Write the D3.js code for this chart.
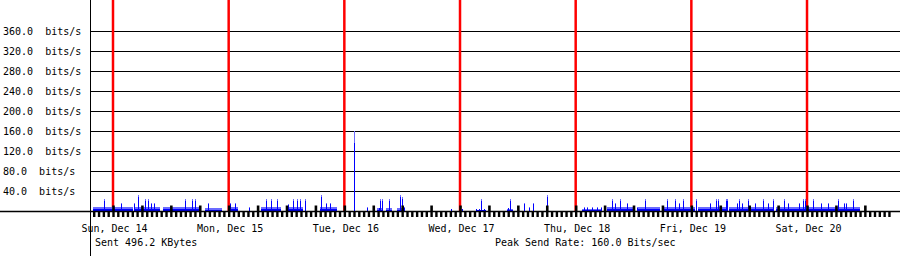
<!DOCTYPE html>
<html><head><meta charset="utf-8">
<script src="https://cdn.jsdelivr.net/npm/d3@7"></script>
<style>
body{margin:0;background:#fff}
svg{display:block}
text{font-family:'DejaVu Sans Mono','Liberation Mono',monospace;font-size:10px;fill:#000;white-space:pre}
</style>
</head><body><svg id="c" width="900" height="256"></svg>
<script>
// ---- data ----
const yTicks = [40, 80, 120, 160, 200, 240, 280, 320, 360];
const yTickLabels = ["40.0  bits/s","80.0  bits/s","120.0  bits/s","160.0  bits/s","200.0  bits/s","240.0  bits/s","280.0  bits/s","320.0  bits/s","360.0  bits/s"];
const dayLabels = ["Sun, Dec 14","Mon, Dec 15","Tue, Dec 16","Wed, Dec 17","Thu, Dec 18","Fri, Dec 19","Sat, Dec 20"];
const sentText = "Sent 496.2 KBytes";
const peakText = "Peak Send Rate: 160.0 Bits/sec";
// hours relative to Sun Dec 14 00:00
const bandStart = [-4.1, 4.6, 10.4, 19.1, 23.9, 30.7, 36.5, 42.9, 54.8, 56.6, 58.9, 75.5, 81.7, 97.3, 102.5, 108.7, 113.9, 121.4, 127.8, 137.6];
const bandEnd   = [ 4.1, 9.8, 18.0, 22.6, 25.9, 34.9, 39.4, 46.5, 56.0, 57.9, 60.4, 77.4, 82.9, 101.5, 107.9, 113.5, 120.8, 127.3, 137.2, 154.9];
const bandMax   = [8, 8, 8, 6, 8, 8, 8, 8, 6, 6, 6, 3, 4, 4, 8, 8, 8, 8, 8, 8];
const bandAvg   = [4, 4, 4, 3, 4, 4, 4, 4, 3, 3, 3, 2, 2, 2, 4, 4, 4, 4, 4, 4];
const spikeHour = [-1.9, 1.7, 4.4, 5.2, 6.6, 7.2, 7.9, 8.5, 15.0, 16.4, 17.0, 19.8, 24.3, 25.3, 28.2, 31.7, 32.8, 34.0, 36.3, 37.3, 38.2, 38.8, 39.8, 43.2, 44.2, 45.0, 50.0, 52.7, 55.2, 55.4, 55.8, 57.3, 59.5, 59.9, 60.4, 70.1, 72.4, 75.3, 76.0, 76.4, 77.0, 82.0, 82.4, 85.3, 86.3, 87.1, 90.0, 97.7, 98.3, 99.4, 100.4, 101.2, 103.5, 104.2, 105.2, 106.6, 108.7, 110.4, 114.9, 116.6, 117.4, 118.3, 121.0, 123.9, 125.1, 125.5, 127.2, 127.5, 129.5, 129.8, 130.5, 131.7, 133.2, 134.8, 135.9, 136.9, 139.2, 140.0, 142.3, 143.2, 143.6, 145.3, 147.0, 148.4, 150.5, 151.6, 152.0, 153.6];
const spikeMax  = [24, 16, 16, 33, 24, 24, 16, 16, 24, 24, 24, 16, 16, 16, 8, 24, 24, 24, 14, 24, 24, 24, 24, 32, 16, 16, 160, 8, 6, 24, 24, 24, 32, 28, 8, 4, 4, 4, 4, 24, 4, 6, 24, 16, 8, 16, 32, 8, 8, 8, 8, 8, 24, 16, 24, 16, 8, 24, 24, 24, 16, 24, 24, 16, 24, 24, 24, 24, 16, 24, 16, 24, 16, 24, 16, 24, 24, 16, 16, 24, 24, 24, 16, 16, 24, 16, 16, 24];

// ---- layout ----
const W = 900, H = 256;
const svg = d3.select("#c");
const t0 = new Date(2008, 11, 14);
const T = h => new Date(t0.getTime() + h * 3600e3);
const pxDay = 115.67, day0X = 113;
const pph = pxDay / 24;
const hStart = -4, hEnd = 161;
const x = d3.scaleTime().domain([T(hStart), T(hEnd)]).range([day0X + hStart * pph, day0X + hEnd * pph]);
const y = d3.scaleLinear().domain([0, 422]).range([211, 0]);
const base = y(0);

// grid lines
svg.append("g").selectAll("line").data(yTicks).join("line")
  .attr("x1", 90).attr("x2", W)
  .attr("y1", d => Math.round(y(d)) + 0.5).attr("y2", d => Math.round(y(d)) + 0.5)
  .attr("stroke", "#000").attr("stroke-width", 1);

// y labels
svg.append("g").selectAll("text").data(yTicks).join("text")
  .attr("x", 3).attr("y", d => y(d) + 3.5)
  .text((d, i) => yTickLabels[i]);

// day lines (red)
const days = d3.timeDay.range(T(0), T(hEnd));
svg.append("g").selectAll("line").data(days).join("line")
  .attr("x1", d => x(d)).attr("x2", d => x(d))
  .attr("y1", 0).attr("y2", base)
  .attr("stroke", "#ff0000").attr("stroke-width", 2.5);

// bands
const bands = bandStart.map((s, i) => ({s, e: bandEnd[i], m: bandMax[i], a: bandAvg[i]}));
const gB = svg.append("g").attr("shape-rendering", "crispEdges");
gB.selectAll("rect.max").data(bands).join("rect").attr("class", "max")
  .attr("x", d => Math.round(x(T(d.s)))).attr("width", d => Math.round(x(T(d.e))) - Math.round(x(T(d.s))))
  .attr("y", d => Math.round(y(d.m))).attr("height", d => base - Math.round(y(d.m)))
  .attr("fill", "#6b6bff");
gB.selectAll("rect.avg").data(bands).join("rect").attr("class", "avg")
  .attr("x", d => Math.round(x(T(d.s)))).attr("width", d => Math.round(x(T(d.e))) - Math.round(x(T(d.s))))
  .attr("y", d => Math.round(y(d.a))).attr("height", d => base - Math.round(y(d.a)))
  .attr("fill", "#0000ff");

// spikes
const spikes = spikeHour.map((h, i) => ({h, v: spikeMax[i]}));
gB.selectAll("rect.sm").data(spikes).join("rect").attr("class", "sm")
  .attr("x", d => Math.round(x(T(d.h)))).attr("width", 1)
  .attr("y", d => Math.round(y(d.v))).attr("height", d => base - Math.round(y(d.v)))
  .attr("fill", "#6b6bff");
gB.selectAll("rect.sa").data(spikes).join("rect").attr("class", "sa")
  .attr("x", d => Math.round(x(T(d.h)))).attr("width", 1)
  .attr("y", d => Math.round(y(d.v * 0.85))).attr("height", d => base - Math.round(y(d.v * 0.85)))
  .attr("fill", "#0000ff");

// hourly ticks below baseline
const minor = svg.append("g").attr("transform", `translate(0,${base})`)
  .call(d3.axisBottom(x).ticks(d3.timeHour.every(1)).tickSize(6).tickFormat(""));
minor.select(".domain").remove();
minor.selectAll("line").attr("stroke", "#000").attr("stroke-width", 2.4);

// 6-hour ticks above baseline
const major = svg.append("g").attr("transform", `translate(0,${base})`)
  .call(d3.axisTop(x).ticks(d3.timeHour.every(6)).tickSize(5.5).tickFormat(""));
major.select(".domain").remove();
major.selectAll("line").attr("stroke", "#000").attr("stroke-width", 2.6);

// baseline and vertical axis
svg.append("line").attr("x1", 0).attr("x2", W).attr("y1", base + 0.5).attr("y2", base + 0.5)
  .attr("stroke", "#000").attr("stroke-width", 1.6);
svg.append("line").attr("x1", 90.5).attr("x2", 90.5).attr("y1", 0).attr("y2", H)
  .attr("stroke", "#000").attr("stroke-width", 1);

// day labels
svg.append("g").selectAll("text").data(days).join("text")
  .attr("x", d => x(d) + 1.5).attr("y", 231.5).attr("text-anchor", "middle")
  .text((d, i) => dayLabels[i]);

svg.append("text").attr("x", 95).attr("y", 245.5).text(sentText);
svg.append("text").attr("x", 495).attr("y", 245.5).text(peakText);
</script>
</body></html>
